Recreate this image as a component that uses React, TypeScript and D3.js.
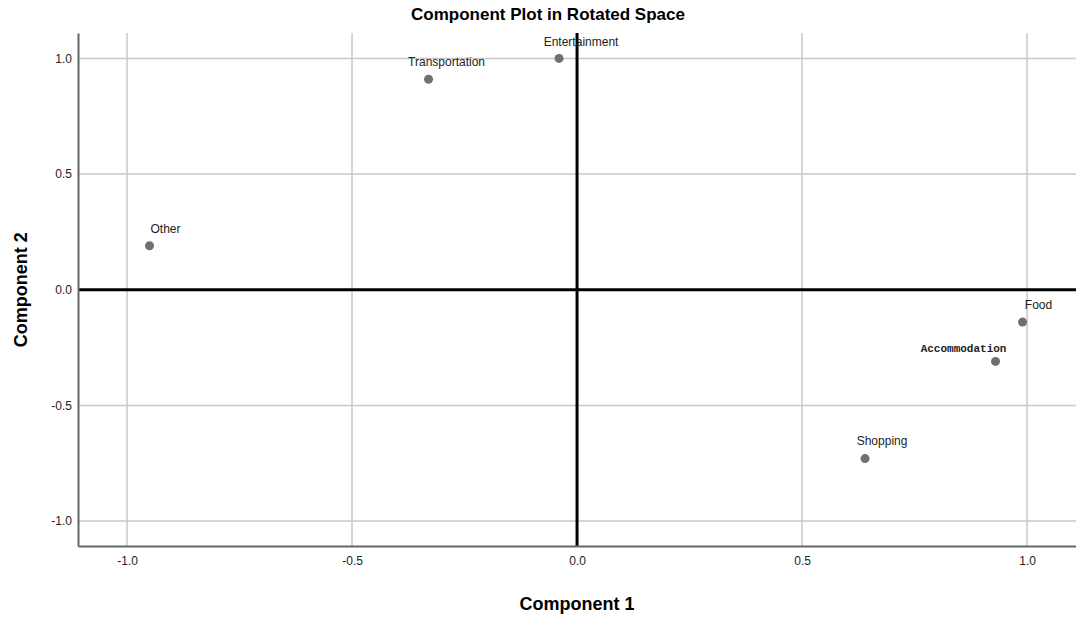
import React, { useEffect, useRef } from 'react';
import * as d3 from 'd3';

const variables = ['Entertainment', 'Transportation', 'Other', 'Food', 'Accommodation', 'Shopping'];
const component1 = [-0.04, -0.33, -0.95, 0.99, 0.93, 0.64];
const component2 = [1.0, 0.91, 0.19, -0.14, -0.31, -0.73];
const tickValues = [-1.0, -0.5, 0.0, 0.5, 1.0];

// label placement relative to each point (dx, dy)
const labelOffsets = [[22, -12], [18, -13], [16, -13], [16, -13], [-32, -9], [17, -14]];

function App() {
  const svgRef = useRef<SVGSVGElement>(null);

  useEffect(() => {
    const width = 1084;
    const height = 619;
    const margin = { top: 33, right: 7, bottom: 73, left: 78 };

    const svg = d3.select(svgRef.current)
      .attr('width', width)
      .attr('height', height)
      .style('font-family', 'Arial, "Liberation Sans", sans-serif');
    svg.selectAll('*').remove();

    const x = d3.scaleLinear()
      .domain([-1.109, 1.111])
      .range([margin.left, width - margin.right]);
    const y = d3.scaleLinear()
      .domain([-1.108, 1.11])
      .range([height - margin.bottom, margin.top]);

    const left = margin.left;
    const right = width - margin.right;
    const top = margin.top;
    const bottom = height - margin.bottom;
    const fmt = (d: any) => (+d).toFixed(1);

    // gridlines
    svg.append('g').selectAll('line')
      .data(tickValues)
      .enter().append('line')
      .attr('x1', d => x(d)).attr('x2', d => x(d))
      .attr('y1', top).attr('y2', bottom)
      .attr('stroke', '#c8c8c8').attr('stroke-width', 1.5);
    svg.append('g').selectAll('line')
      .data(tickValues)
      .enter().append('line')
      .attr('x1', left).attr('x2', right)
      .attr('y1', d => y(d)).attr('y2', d => y(d))
      .attr('stroke', '#c8c8c8').attr('stroke-width', 1.5);

    // reference lines at zero
    svg.append('line')
      .attr('x1', left).attr('x2', right)
      .attr('y1', y(0)).attr('y2', y(0))
      .attr('stroke', '#000').attr('stroke-width', 3);
    svg.append('line')
      .attr('x1', x(0)).attr('x2', x(0))
      .attr('y1', top).attr('y2', bottom)
      .attr('stroke', '#000').attr('stroke-width', 3);

    // axes
    const xAxis = svg.append('g')
      .attr('transform', `translate(0, ${bottom})`)
      .call(d3.axisBottom(x).tickValues(tickValues).tickFormat(fmt).tickSize(0).tickPadding(10));
    xAxis.select('.domain').attr('stroke', '#666').attr('stroke-width', 2);
    xAxis.selectAll('text').attr('font-size', 12).attr('fill', '#222').attr('font-family', 'Arial, "Liberation Sans", sans-serif');

    const yAxis = svg.append('g')
      .attr('transform', `translate(${left}, 0)`)
      .call(d3.axisLeft(y).tickValues(tickValues).tickFormat(fmt).tickSize(0).tickPadding(6));
    yAxis.select('.domain').attr('stroke', '#666').attr('stroke-width', 2);
    yAxis.selectAll('text').attr('font-size', 12).attr('fill', '#222').attr('font-family', 'Arial, "Liberation Sans", sans-serif');

    // points
    svg.append('g').selectAll('circle')
      .data(variables)
      .enter().append('circle')
      .attr('cx', (d, i) => x(component1[i]))
      .attr('cy', (d, i) => y(component2[i]))
      .attr('r', 4.5)
      .attr('fill', '#707070');

    svg.append('g').selectAll('text')
      .data(variables)
      .enter().append('text')
      .attr('x', (d, i) => x(component1[i]) + labelOffsets[i][0])
      .attr('y', (d, i) => y(component2[i]) + labelOffsets[i][1])
      .attr('text-anchor', 'middle')
      .attr('font-size', d => d === 'Accommodation' ? 11 : 12)
      .attr('font-family', d => d === 'Accommodation' ? '"Liberation Mono", "DejaVu Sans Mono", monospace' : 'Arial, "Liberation Sans", sans-serif')
      .attr('font-weight', d => d === 'Accommodation' ? 'bold' : 'normal')
      .attr('fill', '#222')
      .text(d => d);

    // title and axis titles
    svg.append('text')
      .attr('x', 548).attr('y', 20)
      .attr('text-anchor', 'middle')
      .attr('font-size', 17).attr('font-weight', 'bold')
      .text('Component Plot in Rotated Space');

    svg.append('text')
      .attr('x', x(0)).attr('y', 610)
      .attr('text-anchor', 'middle')
      .attr('font-size', 18).attr('font-weight', 'bold')
      .text('Component 1');

    svg.append('text')
      .attr('transform', `translate(27, ${y(0)}) rotate(-90)`)
      .attr('text-anchor', 'middle')
      .attr('font-size', 18).attr('font-weight', 'bold')
      .text('Component 2');
  }, []);

  return (
    <div style={{ margin: -8 }}>
      <svg ref={svgRef}></svg>
    </div>
  );
}

export default App;
